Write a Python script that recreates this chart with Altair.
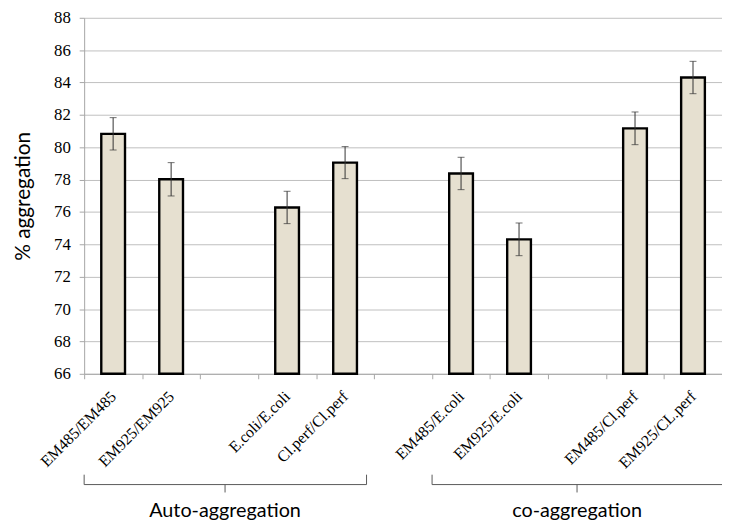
import altair as alt
import pandas as pd

# ---- data ----
categories = ["EM485/EM485", "EM925/EM925", "gap1", "E.coli/E.coli", "Cl.perf/Cl.perf", "gap2",
              "EM485/E.coli", "EM925/E.coli", "gap3", "EM485/Cl.perf", "EM925/CL.perf"]
bar_categories = ["EM485/EM485", "EM925/EM925", "E.coli/E.coli", "Cl.perf/Cl.perf",
                  "EM485/E.coli", "EM925/E.coli", "EM485/Cl.perf", "EM925/CL.perf"]
values = [80.83, 78.02, 76.28, 79.05, 78.38, 74.31, 81.17, 84.31]
errors = [1.0, 1.03, 1.0, 0.99, 1.0, 1.01, 1.01, 1.0]
y_ticks = [66, 68, 70, 72, 74, 76, 78, 80, 82, 84, 86, 88]

group_names = ["Auto-aggregation", "co-aggregation"]
group_start = [0.0, 6.0]
group_end = [4.87, 11.3]
group_center = [2.43, 8.5]

W, H = 645, 360

df = pd.DataFrame({"category": bar_categories, "value": values, "err": errors})
gdf = pd.DataFrame({"name": group_names, "start": group_start, "end": group_end, "center": group_center})

yscale = alt.Scale(domain=[y_ticks[0], y_ticks[-1]], zero=False, nice=False)
xscale = alt.Scale(domain=categories, paddingInner=0, paddingOuter=0)

y_axis = alt.Axis(values=y_ticks, title="% aggregation", titleX=-51, titleY=H / 2,
                  labelFont="Liberation Serif", labelFontSize=17,
                  labelPadding=9, tickSize=5, gridColor="#BFBFBF", gridWidth=1)
x_axis = alt.Axis(title=None, tickBand="extent", labelAngle=-45, labelAlign="right",
                  labelBaseline="middle", labelPadding=15, labelLimit=0, tickSize=5, grid=False,
                  labelExpr="substring(datum.label, 0, 3) == 'gap' ? '' : datum.label")

base = alt.Chart(df).transform_calculate(lo="datum.value - datum.err", hi="datum.value + datum.err")
x_enc = alt.X("category:N", scale=xscale, sort=categories, axis=x_axis)

bars = base.mark_bar(size=24, fill="#E6E0D0", stroke="#000000", strokeWidth=2.4).encode(
    x=x_enc,
    y=alt.Y("value:Q", scale=yscale, axis=y_axis),
    y2=alt.datum(y_ticks[0]),
)
err_rule = base.mark_rule(color="#333333", strokeWidth=1).encode(
    x=x_enc,
    y=alt.Y("lo:Q", scale=yscale, axis=y_axis),
    y2="hi:Q",
)
cap_hi = base.mark_tick(color="#333333", size=7, thickness=1, orient="horizontal").encode(
    x=x_enc,
    y=alt.Y("hi:Q", scale=yscale, axis=y_axis),
)
cap_lo = base.mark_tick(color="#333333", size=7, thickness=1, orient="horizontal").encode(
    x=x_enc,
    y=alt.Y("lo:Q", scale=yscale, axis=y_axis),
)

main = alt.layer(bars, err_rule, cap_hi, cap_lo)

gscale = alt.Scale(domain=[0, len(categories)], nice=False, zero=False)
gbase = alt.Chart(gdf)
line_color = "#595959"
h_line = gbase.mark_rule(color=line_color, strokeWidth=1).encode(
    x=alt.X("start:Q", scale=gscale, axis=None), x2="end:Q", y=alt.value(472))
l_end = gbase.mark_rule(color=line_color, strokeWidth=1).encode(
    x=alt.X("start:Q", scale=gscale, axis=None), y=alt.value(462), y2=alt.value(472))
r_end = gbase.mark_rule(color=line_color, strokeWidth=1).encode(
    x=alt.X("end:Q", scale=gscale, axis=None), y=alt.value(462), y2=alt.value(472))
c_tick = gbase.mark_rule(color=line_color, strokeWidth=1).encode(
    x=alt.X("center:Q", scale=gscale, axis=None), y=alt.value(472), y2=alt.value(480))
g_text = gbase.mark_text(font="Lato", fontSize=20, color="#000000", baseline="alphabetic").encode(
    x=alt.X("center:Q", scale=gscale, axis=None), y=alt.value(505), text="name:N")

groups = alt.layer(h_line, l_end, r_end, c_tick, g_text)

chart = alt.layer(main, groups).resolve_scale(x="independent").properties(
    width=W, height=H,
    autosize=alt.AutoSizeParams(type="none"),
    padding={"left": 77, "top": 7, "right": 0, "bottom": 152},
).configure_view(stroke=None).configure_axis(
    labelFont="Liberation Serif", labelFontSize=16, labelColor="#000000",
    tickColor="#A6A6A6", domainColor="#A6A6A6",
    titleFont="Lato", titleFontSize=21, titleFontWeight="normal", titleColor="#000000",
).configure_axisY(labelFont="Liberation Serif", labelFontSize=17)

chart.save("out.html", embed_options={"renderer": "svg", "actions": False})
